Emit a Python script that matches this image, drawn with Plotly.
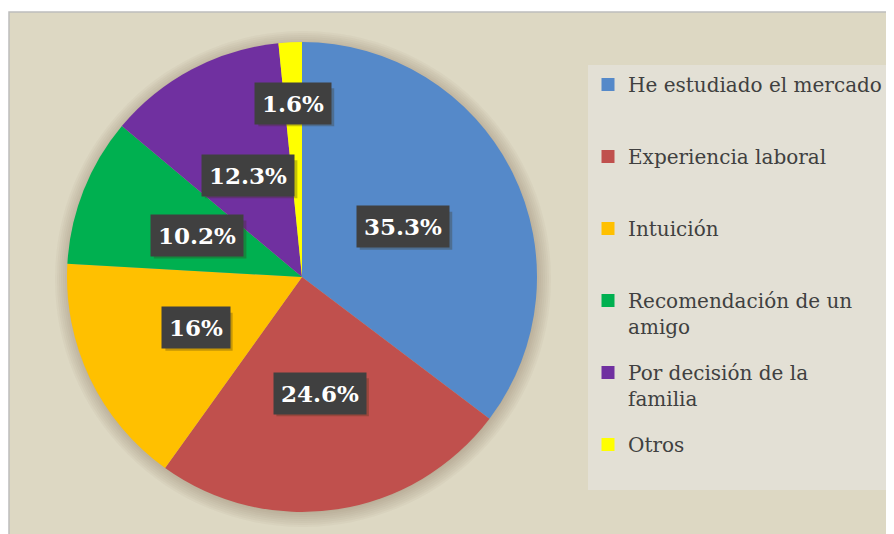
import math
import plotly.graph_objects as go

# Datos del gráfico
categorias = ["He estudiado el mercado", "Experiencia laboral", "Intuición",
              "Recomendación de un amigo", "Por decisión de la familia", "Otros"]
leyenda = ["He estudiado el mercado", "Experiencia laboral", "Intuición",
           "Recomendación de un<br>amigo", "Por decisión de la<br>familia", "Otros"]
porcentajes = [35.3, 24.6, 16, 10.2, 12.3, 1.6]
etiquetas = ["35.3%", "24.6%", "16%", "10.2%", "12.3%", "1.6%"]

colores = ["#5589C9", "#C0504D", "#FFC000", "#00B050", "#7030A0", "#FFFF00"]

# la página tiene 8px de margen, el gráfico ocupa el resto
W, H = 886, 526
CX, CY, R = 294, 269, 235          # centro y radio del pastel (px)
radio_etiqueta = [0.48, 0.5, 0.5, 0.48, 0.49, 0.74]

fig = go.Figure()

fig.add_trace(go.Pie(
    labels=categorias, values=porcentajes,
    sort=False, direction="clockwise", rotation=0,
    marker=dict(colors=colores, line=dict(width=0)),
    textinfo="none", showlegend=False,
    domain=dict(x=[(CX - R) / W, (CX + R) / W], y=[1 - (CY + R) / H, 1 - (CY - R) / H]),
))

# Entradas de la leyenda (cada una en su grupo para poder separarlas)
for nombre, texto, color in zip(categorias, leyenda, colores):
    lineas = texto.count("<br>") + 1
    fig.add_trace(go.Scatter(
        x=[None], y=[None], mode="markers",
        name=texto + "<br> " * (2 - lineas),
        legendgroup=nombre, hoverinfo="skip",
        marker=dict(symbol="square", size=13, color=color),
    ))

# Fondo del área del gráfico
shapes = [dict(type="rect", xref="paper", yref="paper",
               x0=1 / W, x1=1.01, y0=-0.01, y1=1 - 4 / H,
               fillcolor="#DDD8C3", line=dict(color="#BDBDBD", width=1.5), layer="below")]
# Sombra difusa alrededor del pastel
for i in range(8):
    rr = R + 13 - i * 2
    shapes.append(dict(type="circle", xref="paper", yref="paper",
                       x0=(CX - rr + 1) / W, x1=(CX + rr + 1) / W,
                       y0=1 - (CY + rr + 2) / H, y1=1 - (CY - rr + 2) / H,
                       fillcolor="rgba(110,100,70,0.045)", line=dict(width=0), layer="below"))

# Etiquetas de porcentaje con caja oscura (y una sombra detrás)
annotations = []
acum = 0
for val, txt, rf in zip(porcentajes, etiquetas, radio_etiqueta):
    ang = math.radians((acum + val / 2) / sum(porcentajes) * 360)
    acum += val
    px = CX + rf * R * math.sin(ang)
    py = CY - rf * R * math.cos(ang)
    ancho = 14 + 16.6 * sum(c.isdigit() for c in txt) + 8.7 * txt.count(".") + 20
    shapes.append(dict(type="rect", xref="paper", yref="paper",
                       xsizemode="pixel", ysizemode="pixel",
                       xanchor=px / W, yanchor=1 - py / H,
                       x0=-ancho / 2 + 3, x1=ancho / 2 + 3, y0=-19 - 4, y1=19 - 4,
                       fillcolor="rgba(60,50,20,0.3)", line=dict(width=0), layer="above"))
    annotations.append(dict(x=px / W, y=1 - py / H, xref="paper", yref="paper",
                            xanchor="center", yanchor="middle",
                            text="<b>" + txt + "</b>", showarrow=False, borderpad=7,
                            bgcolor="#404040",
                            font=dict(family="DejaVu Serif", size=23, color="white")))

fig.update_layout(
    width=W, height=H,
    margin=dict(l=0, r=0, t=0, b=0),
    paper_bgcolor="white", plot_bgcolor="rgba(0,0,0,0)",
    xaxis=dict(visible=False), yaxis=dict(visible=False),
    shapes=shapes, annotations=annotations,
    showlegend=True,
    legend=dict(x=580 / W, y=1 - 57 / H, xanchor="left", yanchor="top",
                bgcolor="#E3E0D5", valign="top", tracegroupgap=17,
                traceorder="grouped",
                font=dict(family="DejaVu Serif", size=20, color="#404040")),
)

fig.write_html("out.html")
